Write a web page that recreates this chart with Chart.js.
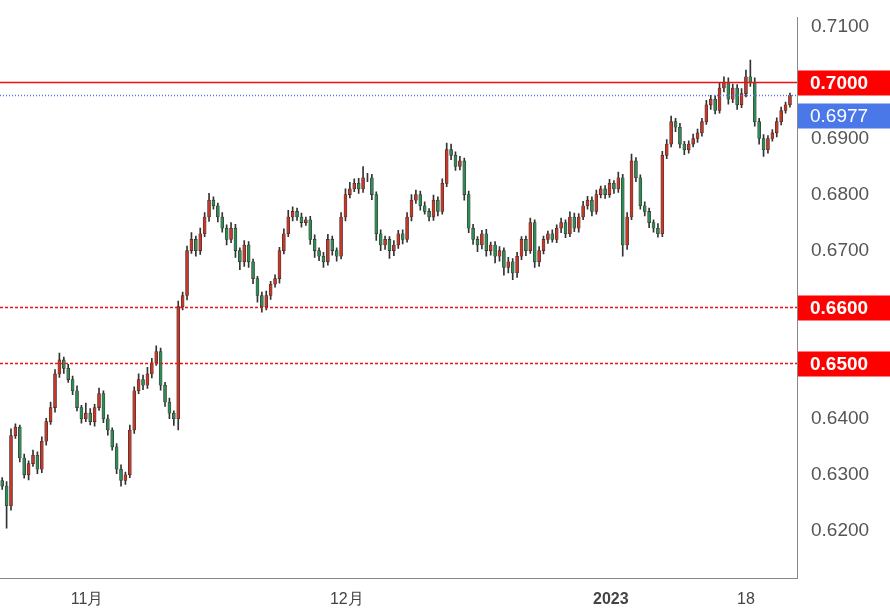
<!DOCTYPE html><html><head><meta charset="utf-8">
<script src="https://cdn.jsdelivr.net/npm/chart.js@4"></script>
<style>html,body{margin:0;background:#fff}#w{width:890px;height:616px}</style></head><body><div id="w"><canvas id="c"></canvas></div>
<script>
const closes=[0.6280,0.6245,0.6370,0.6385,0.6330,0.6300,0.6320,0.6335,0.6310,0.6360,
0.6395,0.6420,0.6480,0.6505,0.6490,0.6470,0.6450,0.6420,0.6400,0.6410,
0.6395,0.6420,0.6445,0.6400,0.6380,0.6350,0.6310,0.6290,0.6300,0.6380,
0.6450,0.6470,0.6460,0.6480,0.6500,0.6520,0.6460,0.6430,0.6410,0.6400,
0.6600,0.6620,0.6700,0.6720,0.6700,0.6730,0.6760,0.6790,0.6780,0.6760,
0.6740,0.6720,0.6740,0.6700,0.6680,0.6710,0.6680,0.6650,0.6620,0.6600,
0.6620,0.6640,0.6650,0.6700,0.6730,0.6760,0.6770,0.6760,0.6750,0.6755,
0.6720,0.6700,0.6690,0.6680,0.6720,0.6700,0.6690,0.6760,0.6800,0.6810,
0.6820,0.6810,0.6830,0.6830,0.6800,0.6730,0.6710,0.6720,0.6700,0.6710,
0.6730,0.6720,0.6760,0.6790,0.6800,0.6780,0.6770,0.6760,0.6790,0.6770,
0.6820,0.6880,0.6870,0.6850,0.6860,0.6800,0.6740,0.6720,0.6710,0.6730,
0.6700,0.6710,0.6690,0.6700,0.6670,0.6680,0.6660,0.6690,0.6720,0.6700,
0.6750,0.6680,0.6700,0.6720,0.6730,0.6720,0.6740,0.6750,0.6730,0.6760,
0.6740,0.6760,0.6780,0.6790,0.6770,0.6800,0.6810,0.6800,0.6820,0.6810,
0.6830,0.6710,0.6760,0.6860,0.6830,0.6780,0.6770,0.6750,0.6740,0.6730,
0.6870,0.6890,0.6930,0.6920,0.6890,0.6880,0.6890,0.6900,0.6910,0.6930,
0.6960,0.6970,0.6950,0.6990,0.7000,0.6970,0.6990,0.6960,0.6980,0.7010,
0.7000,0.6930,0.6900,0.6880,0.6900,0.6910,0.6930,0.6950,0.6960,0.6977];
const firstOpen=0.6290;
const wickHi=[5,8,12,6,4,7,5,9,6,8,6,10,8,12,5,7,6,9,4,18,8,6,10,5,7,4,6,8,5,9,
7,10,8,12,8,10,6,5,7,4,10,6,8,12,6,10,8,12,6,5,8,6,10,7,5,8,6,5,4,6,
8,5,7,6,9,12,8,6,7,5,6,8,5,7,9,6,5,8,10,12,8,9,20,8,6,5,7,6,5,8,
6,7,8,10,8,6,7,5,9,6,8,12,10,6,8,5,6,7,5,6,8,5,6,7,5,8,6,7,5,6,
8,5,7,6,5,7,6,8,5,9,7,6,8,7,6,8,5,6,7,5,10,6,8,12,6,5,7,6,5,8,
7,8,10,6,7,5,6,8,7,6,8,7,6,9,10,8,7,6,9,12,30,8,6,7,5,6,7,6,5,4];
const wickLo=[6,40,8,5,7,6,9,5,8,6,7,5,8,6,9,5,7,6,8,5,6,8,5,7,9,6,8,10,7,5,
6,5,8,6,7,5,9,8,10,12,20,6,8,5,10,7,5,8,6,9,7,10,6,12,14,8,10,9,12,10,
6,7,5,8,6,5,7,6,8,5,9,12,8,10,6,8,9,5,7,6,5,8,6,7,9,12,10,8,14,9,
6,8,5,7,6,8,5,7,6,8,5,6,8,7,6,10,8,9,12,7,10,8,12,9,14,10,12,8,6,9,
5,10,8,6,7,5,6,8,7,5,6,7,5,6,8,5,6,7,5,8,6,20,8,5,7,6,8,9,7,6,
5,6,5,8,7,9,6,5,7,6,5,8,6,5,7,9,6,8,5,6,7,8,10,12,6,5,7,6,5,4];
const xTicks=[{v:19.3,t:'11月'},{v:78.3,t:'12月'},{v:138.3,t:'2023',b:true},{v:169,t:'18'}];
const yTicks=[0.62,0.63,0.64,0.65,0.66,0.67,0.68,0.69,0.70,0.71];
const levels=[{v:0.7000,c:'#ee1111',dash:[],off:0},{v:0.6600,c:'#ee1111',dash:[3,2],off:0},{v:0.6500,c:'#ee1111',dash:[3,2],off:0},{v:0.6977,c:'#5577ee',dash:[1,2],off:20}];

const opens=closes.map((c,i)=>i?closes[i-1]:firstOpen);
const body=closes.map((c,i)=>({x:i,y:[opens[i],c]}));
const wick=closes.map((c,i)=>({x:i,y:[Math.min(opens[i],c)-wickLo[i]/10000,Math.max(opens[i],c)+wickHi[i]/10000]}));
const bodyCol=closes.map((c,i)=>c>=opens[i]?'#c0392b':'#2e8b57');

const levelPlugin={id:'lv',afterDatasetsDraw(ch){
 const ctx=ch.ctx,y=ch.scales.y,a=ch.chartArea;
 levels.forEach(l=>{const p=Math.round(y.getPixelForValue(l.v))+0.5;
  ctx.save();ctx.strokeStyle=l.c;ctx.lineWidth=l.dash.length?1.3:1.5;ctx.setLineDash(l.dash);
  ctx.beginPath();ctx.moveTo(a.left,p);ctx.lineTo(a.right,p);ctx.stroke();ctx.restore();});
 levels.forEach(l=>{const p=Math.round(y.getPixelForValue(l.v))+0.5+l.off;
  ctx.save();ctx.fillStyle=l.c==='#5577ee'?'#4a78e8':'#ff0000';ctx.fillRect(a.right+1,p-12,92,25);
  ctx.fillStyle='#fff';ctx.font=(l.c==='#5577ee'?'':'bold ')+'19px "Liberation Sans",Arial';ctx.textBaseline='middle';
  ctx.fillText(l.v.toFixed(4),a.right+13,p+1);ctx.restore();});
}};
const xFont=c=>{const v=c&&c.tick?c.tick.value:null;const t=xTicks.find(q=>q.v===v);return{size:16,family:'"Liberation Sans",Arial',weight:t&&t.b?'bold':'normal'};};
new Chart(document.getElementById('c'),{
 data:{datasets:[
  {type:'bar',data:wick,backgroundColor:'#333',barThickness:1,grouped:false,order:2},
  {type:'bar',data:body,backgroundColor:bodyCol,borderColor:'#3a2a2a',borderWidth:0.6,borderSkipped:false,barThickness:3,grouped:false,order:1}
 ]},
 options:{responsive:true,maintainAspectRatio:false,animation:false,
  plugins:{legend:{display:false},tooltip:{enabled:false}},
  scales:{
   x:{type:'linear',min:-0.5,max:180.6,offset:false,bounds:'data',grid:{display:false},border:{color:'#888'},
    afterDataLimits:s=>{s.min=-0.5;s.max=180.6;},
    afterBuildTicks:s=>{s.ticks=xTicks.map(t=>({value:t.v}));},
    afterFit:s=>{s.height=38;},
    ticks:{autoSkip:false,maxRotation:0,color:'#444',padding:4,
     callback:(v)=>{const t=xTicks.find(q=>q.v===v);return t?t.t:'';},
     font:xFont}},
   y:{position:'right',min:0.6116,max:0.7116,grid:{display:false},border:{color:'#888'},
    afterBuildTicks:s=>{s.ticks=yTicks.map(v=>({value:v}));},
    afterFit:s=>{s.width=93;},
    ticks:{color:'#555',padding:6,font:{size:19,family:'"Liberation Sans",Arial'},callback:v=>v.toFixed(4)}}
  }},
 plugins:[levelPlugin]
});
</script></body></html>
